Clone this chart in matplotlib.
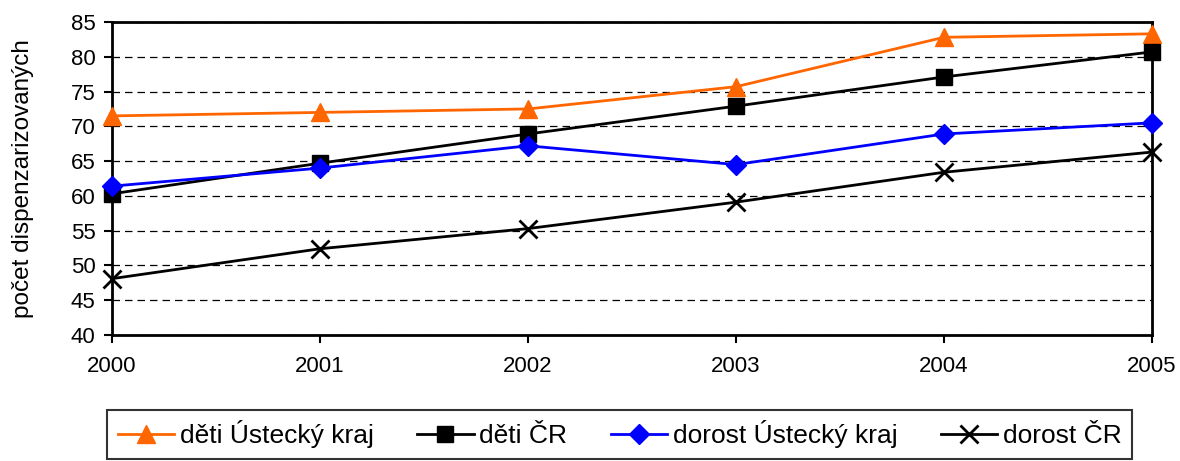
import numpy as np
import matplotlib.pyplot as plt

plt.rcParams['font.family'] = ['Liberation Sans', 'DejaVu Sans']
plt.rcParams['font.size'] = 16

# data
years = [2000, 2001, 2002, 2003, 2004, 2005]
deti_ul = [71.5, 72.0, 72.5, 75.7, 82.8, 83.3]
deti_cr = [60.3, 64.7, 68.9, 72.9, 77.1, 80.7]
dorost_ul = [61.4, 64.0, 67.2, 64.5, 68.9, 70.5]
dorost_cr = [48.1, 52.4, 55.3, 59.1, 63.4, 66.3]
labels = ['děti Ústecký kraj', 'děti ČR', 'dorost Ústecký kraj', 'dorost ČR']

fig = plt.figure(figsize=(11.8, 4.61), dpi=100)
ax = fig.add_axes([0.0949, 0.2733, 0.8814, 0.679])

ax.plot(years, deti_ul, color='#ff6600', lw=2, marker='^', ms=13, label=labels[0], clip_on=False, zorder=5)
ax.plot(years, deti_cr, color='black', lw=2, marker='s', ms=11, label=labels[1], clip_on=False, zorder=5)
ax.plot(years, dorost_ul, color='#0000ff', lw=2, marker='D', ms=10.5, label=labels[2], clip_on=False, zorder=5)
ax.plot(years, dorost_cr, color='black', lw=2, marker='x', ms=13, mew=2, label=labels[3], clip_on=False, zorder=5)

ax.set_xlim(2000, 2005)
ax.set_ylim(40, 85)
ax.set_yticks(np.arange(40, 86, 5))
ax.set_xticks(years)
ax.yaxis.grid(True, linestyle=(0, (6, 4)), color='black', lw=0.9)
ax.set_axisbelow(True)
for s in ax.spines.values():
    s.set_linewidth(2)
ax.tick_params(axis='both', direction='out', length=6, width=1.5, labelsize=16)
ax.tick_params(axis='y', pad=6)
ax.tick_params(axis='x', pad=9)
ax.set_ylabel('počet dispenzarizovaných', fontsize=17.5, labelpad=26)

leg = fig.legend(loc='upper left', bbox_to_anchor=(0.0907, 0.111),
                 ncol=4, frameon=True, fancybox=False, edgecolor='black', fontsize=19,
                 handlelength=2.15, handletextpad=0.2, columnspacing=1.65,
                 borderpad=0.4, borderaxespad=0)
leg.get_frame().set_linewidth(1.5)

fig.savefig('out.png', dpi=100)
